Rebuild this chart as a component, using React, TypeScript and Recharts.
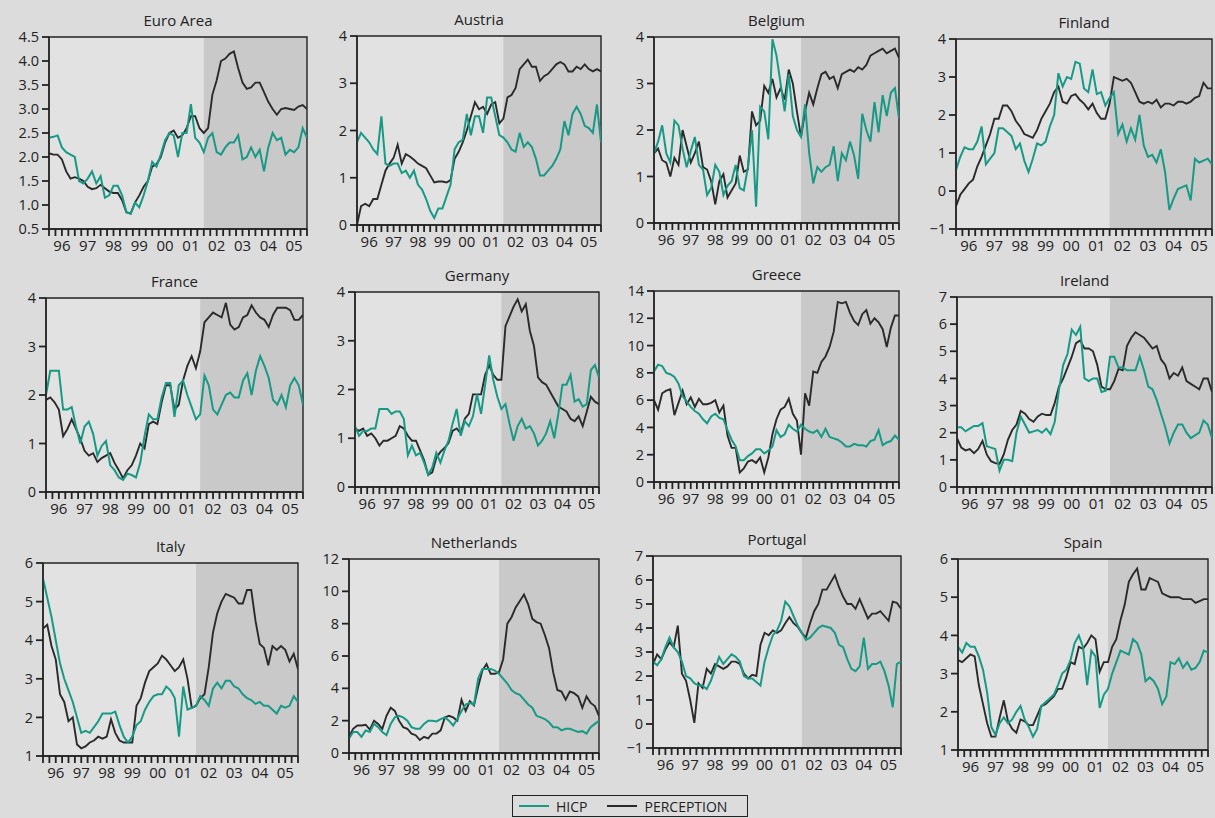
import { LineChart, Line, XAxis, YAxis, ReferenceArea, ReferenceLine } from 'recharts';

// Inflation (HICP) vs perceived inflation, bimonthly readings Jan 1996 – Jan 2006
const FIRST_YEAR = 1996;
const LAST_YEAR = 2006;
const CASH_CHANGEOVER = 2002;
const YEAR_LABELS = ['96', '97', '98', '99', '00', '01', '02', '03', '04', '05'];
const DATES = Array.from({ length: 61 }, (_, i) => FIRST_YEAR + i / 6);
const QUARTER_TICKS = Array.from({ length: 41 }, (_, i) => FIRST_YEAR + i / 4);

const EURO_HICP = [
  2.4, 2.42, 2.45, 2.2, 2.1, 2.05,
  2.0, 1.5, 1.45, 1.55, 1.7, 1.45,
  1.6, 1.15, 1.2, 1.4, 1.4, 1.2,
  0.85, 0.82, 1.05, 0.95, 1.2, 1.5,
  1.9, 1.8, 2.05, 2.35, 2.5, 2.45,
  2.0, 2.5, 2.5, 3.1, 2.4, 2.3,
  2.1, 2.4, 2.5, 2.1, 2.05, 2.2,
  2.3, 2.3, 2.45, 1.95, 2.0, 2.2,
  2.0, 2.15, 1.7, 2.2, 2.5, 2.35,
  2.4, 2.05, 2.15, 2.1, 2.2, 2.6,
  2.4,
];
const EURO_PERC = [
  2.08, 2.05, 2.05, 1.95, 1.7, 1.55,
  1.58, 1.55, 1.5, 1.38, 1.33, 1.35,
  1.42, 1.35, 1.28, 1.25, 1.25, 1.1,
  0.85, 0.82, 1.05, 1.2, 1.38, 1.5,
  1.8, 1.85, 2.0, 2.3, 2.5, 2.55,
  2.4, 2.45, 2.6, 2.85, 2.85, 2.6,
  2.5, 2.6, 3.3, 3.6, 4.0, 4.05,
  4.15, 4.2, 3.85, 3.55, 3.42, 3.45,
  3.55, 3.55, 3.35, 3.15, 3.0, 2.88,
  3.0, 3.02, 3.0, 2.98, 3.05, 3.08,
  3.0,
];

const AUT_HICP = [
  1.75, 1.95, 1.85, 1.75, 1.6, 1.5,
  2.3, 1.3, 1.25, 1.3, 1.3, 1.1,
  1.15, 1.0, 1.15, 0.85, 0.75, 0.55,
  0.3, 0.15, 0.35, 0.35, 0.6, 0.85,
  1.6, 1.75, 1.8, 2.35, 1.9, 2.3,
  2.3, 1.95, 2.7, 2.7, 2.3, 1.9,
  1.85, 1.75, 1.6, 1.55, 1.95, 1.65,
  1.75, 1.65, 1.4, 1.05, 1.05, 1.15,
  1.25, 1.4, 1.6, 2.2, 1.9, 2.35,
  2.5, 2.35, 2.1, 2.05, 1.95, 2.55,
  1.75,
];
const AUT_PERC = [
  0.0, 0.4, 0.45, 0.4, 0.55, 0.55,
  0.85, 1.15, 1.3, 1.42, 1.7, 1.3,
  1.5, 1.45, 1.38, 1.3, 1.25, 1.2,
  1.05, 0.9, 0.92, 0.92, 0.9, 0.95,
  1.4, 1.55, 1.75, 2.0, 2.3, 2.6,
  2.45, 2.5, 2.35, 2.55, 2.6, 2.15,
  2.25, 2.7, 2.75, 2.9, 3.3, 3.4,
  3.5, 3.35, 3.35, 3.05, 3.15, 3.2,
  3.3, 3.4, 3.45, 3.4, 3.25, 3.25,
  3.35, 3.3, 3.4, 3.3, 3.25, 3.3,
  3.25,
];

const BEL_HICP = [
  1.5, 1.75, 2.1, 1.5, 1.3, 2.2,
  2.1, 1.6, 1.2, 1.55, 1.85, 1.25,
  1.15, 0.6, 0.75, 1.25, 1.1, 0.6,
  0.8, 0.9, 1.25, 0.75, 0.7, 1.2,
  2.0, 0.35, 2.5, 2.4, 1.8, 3.95,
  3.6, 3.0, 2.4, 3.2, 2.3, 2.0,
  1.85, 2.55, 1.5, 0.85, 1.2, 1.1,
  1.2, 1.25, 1.65, 0.9, 1.5, 1.35,
  1.75, 1.45, 0.95, 2.35, 2.0, 1.75,
  2.6, 1.95, 2.75, 2.3, 2.8, 2.9,
  2.25,
];
const BEL_PERC = [
  1.5, 1.6, 1.35, 1.3, 1.0, 1.4,
  1.25, 2.0, 1.65, 1.3, 1.5, 1.75,
  1.2, 1.15, 0.9, 0.4, 0.9, 1.05,
  0.55, 0.7, 0.85, 1.45, 1.1, 1.15,
  2.4, 2.1, 2.2, 2.95, 2.8, 3.1,
  2.7, 2.9, 2.65, 3.3, 3.0, 2.4,
  1.85, 2.4, 2.8, 2.55, 2.9, 3.2,
  3.25, 3.1, 3.15, 2.9, 3.2, 3.25,
  3.3, 3.25, 3.35, 3.3, 3.4, 3.6,
  3.65, 3.7, 3.75, 3.65, 3.7, 3.75,
  3.55,
];

const FIN_HICP = [
  0.55, 0.9, 1.15, 1.1, 1.1, 1.3,
  1.7, 0.7, 0.85, 1.0, 1.65, 1.65,
  1.55, 1.45, 1.1, 1.25, 0.8, 0.5,
  0.85, 1.25, 1.2, 1.3, 1.7, 2.0,
  3.1, 2.75, 3.0, 2.95, 3.4, 3.35,
  2.7, 2.6, 3.2, 2.55, 2.6, 2.25,
  2.45, 2.6, 1.5, 1.75, 1.3, 1.65,
  1.35, 2.0, 1.2, 0.9, 0.95, 0.75,
  1.1, 0.5, -0.5, -0.2, 0.05, 0.1,
  0.15, -0.25, 0.85, 0.75, 0.8, 0.85,
  0.7,
];
const FIN_PERC = [
  -0.4, -0.1, 0.05, 0.2, 0.3, 0.65,
  0.9, 1.2, 1.5, 1.9, 1.9, 2.25,
  2.25, 2.1, 1.85, 1.7, 1.5, 1.45,
  1.4, 1.6, 1.9, 2.1, 2.3, 2.6,
  2.75, 2.35, 2.3, 2.5, 2.55, 2.4,
  2.3, 2.15, 2.3, 2.05, 1.9, 1.9,
  2.3, 3.0, 2.95, 2.9, 2.95, 2.85,
  2.6, 2.35, 2.3, 2.35, 2.3, 2.4,
  2.2, 2.3, 2.3, 2.25, 2.35, 2.35,
  2.3, 2.35, 2.45, 2.5, 2.85, 2.7,
  2.7,
];

const FRA_HICP = [
  2.0, 2.5, 2.5, 2.5, 1.7, 1.7,
  1.75, 1.35, 1.0, 1.35, 1.45, 1.2,
  0.75, 0.95, 1.05, 0.55, 0.45, 0.3,
  0.25, 0.38, 0.35, 0.3, 0.6, 1.15,
  1.6, 1.5, 1.5, 1.95, 2.25, 2.25,
  1.55, 2.2, 2.3, 2.0, 1.75, 1.5,
  1.6, 2.4, 2.2, 1.7, 1.6, 1.8,
  2.0, 2.05, 1.95, 1.95, 2.3, 2.45,
  2.0, 2.5, 2.8, 2.6, 2.35, 1.9,
  1.8, 2.0, 1.75, 2.2, 2.35, 2.2,
  1.8,
];
const FRA_PERC = [
  1.9, 1.95, 1.85, 1.7, 1.15, 1.3,
  1.5, 1.3, 1.1, 0.85, 0.75, 0.8,
  0.62, 0.7, 0.75, 0.8, 0.6, 0.45,
  0.28, 0.45, 0.55, 0.75, 1.0, 0.9,
  1.4, 1.45, 1.4, 1.85, 2.2, 2.2,
  1.7, 1.8, 2.3, 2.6, 2.8, 2.55,
  2.9, 3.5, 3.6, 3.7, 3.65, 3.6,
  3.9, 3.45, 3.35, 3.4, 3.6, 3.65,
  3.85, 3.7, 3.6, 3.55, 3.4, 3.65,
  3.8, 3.8, 3.8, 3.75, 3.55, 3.55,
  3.65,
];

const GER_HICP = [
  1.25, 1.05, 1.15, 1.15, 1.2, 1.2,
  1.6, 1.6, 1.6, 1.5, 1.55, 1.55,
  1.4, 0.65, 0.85, 0.65, 0.7, 0.5,
  0.25, 0.4, 0.7, 0.5, 0.75, 0.95,
  1.3, 1.6, 1.05, 1.35, 1.25, 1.45,
  1.9, 1.5, 2.1, 2.7, 2.2, 1.85,
  1.6, 1.7, 1.3, 0.95, 1.25, 1.4,
  1.2, 1.25, 1.1, 0.85, 0.95, 1.1,
  1.35, 1.0, 1.5, 2.1, 2.1, 2.3,
  1.75, 1.8, 1.65, 1.7, 2.4, 2.5,
  2.25,
];
const GER_PERC = [
  1.2, 1.15, 1.2, 1.05, 1.1, 1.0,
  0.85, 0.95, 0.95, 1.0, 1.05, 1.25,
  1.2, 1.05, 0.95, 0.95, 0.75, 0.55,
  0.25, 0.3, 0.6, 0.72, 0.8, 0.9,
  1.15, 1.2, 1.1, 1.4, 1.5, 1.9,
  1.9, 1.9, 2.3, 2.5, 2.3, 2.2,
  2.2, 3.3, 3.5, 3.7, 3.85, 3.6,
  3.75, 3.2, 2.9, 2.25, 2.15, 2.1,
  1.95, 1.8, 1.65, 1.6, 1.55, 1.4,
  1.35, 1.45, 1.25, 1.55, 1.85, 1.75,
  1.7,
];

const GRC_HICP = [
  8.1, 8.6, 8.5, 8.0, 7.9, 7.7,
  7.2, 6.3, 5.9, 5.5, 5.2, 5.0,
  4.6, 4.3, 4.8, 5.0, 4.7, 4.6,
  3.8, 3.1, 2.6, 1.6, 1.6, 1.9,
  2.1, 2.4, 2.4, 2.1, 2.3, 2.6,
  3.8, 3.3, 3.5, 4.2, 3.9, 3.7,
  4.2, 3.9, 3.7, 3.6, 3.8, 3.3,
  3.9, 3.3, 3.2, 3.1, 2.9, 2.6,
  2.6, 2.8, 2.7, 2.7, 2.6, 3.0,
  3.1, 3.8, 2.7, 2.9, 3.0, 3.4,
  3.1,
];
const GRC_PERC = [
  6.0, 5.3, 6.5, 6.7, 6.8, 4.9,
  5.8, 6.7, 5.7, 6.2, 5.5, 6.1,
  5.7, 5.7, 5.8, 6.0, 5.1, 5.6,
  3.4, 2.5, 2.5, 0.7, 1.0, 1.5,
  1.6, 1.4, 1.8, 0.7, 1.8, 3.5,
  4.6, 5.3, 5.5, 6.1, 5.0, 4.5,
  2.0, 6.5, 5.6, 8.1, 8.0, 8.8,
  9.2, 9.9, 11.0, 13.2, 13.1, 13.2,
  12.4, 11.8, 11.5, 12.3, 12.6, 11.6,
  12.0, 11.7, 11.2, 9.9, 11.3, 12.2,
  12.2,
];

const IRL_HICP = [
  2.2, 2.2, 2.05, 2.15, 2.25, 2.25,
  2.35, 1.5, 1.45, 1.4, 0.6, 1.0,
  1.0, 0.95, 2.0, 2.6, 2.3, 2.0,
  2.05, 2.1, 2.0, 2.15, 1.95, 2.4,
  3.6, 4.5, 4.9, 5.8, 5.6, 5.9,
  4.0, 3.9, 4.0, 4.0, 3.5, 3.55,
  4.8, 4.8, 4.4, 4.4, 4.3, 4.3,
  4.3, 4.8, 4.3, 3.7, 3.6, 3.2,
  2.7, 2.2, 1.6, 2.0, 2.3, 2.3,
  2.0, 1.8, 1.9, 2.0, 2.45, 2.3,
  1.8,
];
const IRL_PERC = [
  1.8, 1.45, 1.35, 1.4, 1.25, 1.4,
  1.7, 1.2, 0.95, 0.88, 0.85, 1.2,
  1.75, 2.1, 2.3, 2.8, 2.7, 2.5,
  2.4, 2.6, 2.7, 2.65, 2.65, 3.1,
  3.7, 4.0, 4.4, 4.8, 5.3, 5.4,
  5.1, 5.1, 5.0, 4.5, 3.7, 3.6,
  3.6, 3.9, 4.35, 4.3, 5.2, 5.5,
  5.7, 5.6, 5.5, 5.3, 5.1, 5.2,
  4.7, 4.5, 4.0, 4.2, 4.1, 4.4,
  3.9, 3.8, 3.7, 3.6, 4.0, 4.0,
  3.5,
];

const ITA_HICP = [
  5.6, 5.1, 4.6, 4.0, 3.4, 3.0,
  2.7, 2.4, 2.0, 1.6, 1.65, 1.6,
  1.75, 1.9, 2.1, 2.1, 2.1, 2.15,
  1.8, 1.5, 1.35, 1.5, 1.8, 1.9,
  2.2, 2.4, 2.55, 2.6, 2.6, 2.8,
  2.7, 2.5, 1.5, 2.8, 2.2, 2.25,
  2.3, 2.55, 2.45, 2.3, 2.75, 2.9,
  2.75, 2.95, 2.95, 2.8, 2.75, 2.6,
  2.5, 2.45, 2.35, 2.4, 2.3, 2.3,
  2.2, 2.1, 2.3, 2.25, 2.3, 2.55,
  2.4,
];
const ITA_PERC = [
  4.3, 4.4, 3.85, 3.5, 2.6, 2.4,
  1.9, 2.0, 1.3, 1.2, 1.25, 1.35,
  1.4, 1.5, 1.45, 1.5, 1.95, 1.6,
  1.4, 1.35, 1.35, 1.35, 2.3, 2.5,
  2.9, 3.2, 3.3, 3.4, 3.6, 3.5,
  3.35, 3.2, 3.3, 3.5, 3.0, 2.25,
  2.3, 2.5, 2.6, 3.3, 4.2, 4.7,
  5.0, 5.2, 5.15, 5.1, 4.95, 4.95,
  5.3, 5.3, 4.5, 3.9, 3.8, 3.35,
  3.85, 3.75, 3.85, 3.75, 3.45, 3.65,
  3.25,
];

const NLD_HICP = [
  0.9, 1.3, 1.3, 1.0, 1.4, 1.3,
  1.8, 1.6, 1.3, 1.1, 1.8, 2.2,
  2.3, 2.2, 2.0, 1.6, 1.5, 1.5,
  1.8, 2.0, 2.0, 1.95, 2.1, 2.2,
  2.0, 1.7, 2.1, 2.6, 3.0, 3.1,
  3.0, 4.6, 5.2, 5.2, 5.2, 5.1,
  4.9, 4.6, 4.3, 3.9, 3.7, 3.6,
  3.3, 3.0, 2.8, 2.3, 2.2, 2.1,
  1.9, 1.6, 1.6, 1.4, 1.5, 1.5,
  1.4, 1.3, 1.35, 1.2, 1.6, 1.8,
  2.0,
];
const NLD_PERC = [
  1.0, 1.5, 1.7, 1.7, 1.75, 1.45,
  2.0, 1.8, 1.5, 2.3, 2.8, 2.6,
  2.0, 1.6, 1.5, 1.2, 1.1, 0.8,
  1.0, 0.9, 1.2, 1.2, 1.4, 2.2,
  2.3, 2.2, 2.0, 3.3, 2.6, 3.2,
  2.95, 4.1, 5.1, 5.5, 4.9, 4.9,
  5.0, 5.8, 8.0, 8.4, 9.0, 9.4,
  9.8, 9.2, 8.3, 8.1, 8.0, 7.3,
  6.5, 5.0, 3.9, 3.8, 3.3, 3.8,
  3.7, 3.5, 2.8, 3.5, 3.1, 2.9,
  2.3,
];

const PRT_HICP = [
  2.6, 2.45, 2.7, 3.2, 3.6, 3.2,
  3.0, 2.6, 2.0, 1.9, 1.7, 1.6,
  1.6, 1.45, 1.8, 2.3, 2.8, 2.5,
  2.7, 2.9, 2.8, 2.6, 2.0, 1.9,
  1.9, 1.75, 1.6, 2.6, 3.2, 3.7,
  3.9, 4.3, 5.1, 4.9, 4.5, 4.1,
  3.8, 3.5, 3.6, 3.8, 4.0, 4.1,
  4.05, 4.0, 3.8, 3.3, 3.2, 2.7,
  2.3, 2.2, 2.4, 3.6, 2.3, 2.5,
  2.5, 2.6, 2.2, 1.6, 0.7, 2.5,
  2.6,
];
const PRT_PERC = [
  2.5, 2.9, 2.7, 3.1, 3.4, 3.2,
  4.1, 2.1, 1.8, 1.0, 0.05, 1.7,
  1.5, 2.3, 2.1, 2.5, 2.4, 2.3,
  2.4, 2.6, 2.6, 2.5, 2.1, 1.9,
  2.05, 2.0, 3.3, 3.8, 3.7, 3.9,
  3.8, 3.9, 4.2, 4.45, 4.2, 4.05,
  3.8, 3.6, 4.2, 4.7, 5.0, 5.6,
  5.6, 5.9, 6.2, 5.7, 5.3, 5.0,
  5.0, 4.8, 5.2, 4.8, 4.4, 4.6,
  4.6, 4.7, 4.5, 4.3, 5.1, 5.05,
  4.8,
];

const ESP_HICP = [
  3.7, 3.55, 3.8, 3.7, 3.7, 3.45,
  3.1, 2.5, 1.6, 1.4, 1.7, 1.85,
  1.7, 1.8, 2.0, 2.15, 1.8, 1.6,
  1.35, 1.55, 2.15, 2.25, 2.35, 2.45,
  2.7, 3.0, 3.1, 3.35, 3.8, 4.0,
  3.7, 2.7, 3.6, 3.45, 2.1, 2.45,
  2.6, 3.0, 3.3, 3.6, 3.55, 3.5,
  3.9, 3.8, 3.5, 2.8, 2.9, 2.8,
  2.6, 2.2, 2.4, 3.3, 3.25, 3.4,
  3.15, 3.3, 3.1, 3.15, 3.3, 3.6,
  3.55,
];
const ESP_PERC = [
  3.35, 3.3, 3.4, 3.5, 3.45, 2.7,
  2.2, 1.7, 1.35, 1.35, 1.85, 2.3,
  1.75, 1.55, 1.45, 1.8, 1.75, 1.65,
  1.65, 1.9, 2.15, 2.2, 2.3, 2.4,
  2.6, 2.6, 2.9, 3.3, 3.25, 3.7,
  3.65, 3.8, 4.0, 3.9, 3.05, 3.3,
  3.3, 3.7, 3.9, 4.4, 4.8, 5.4,
  5.6, 5.75, 5.2, 5.2, 5.5, 5.45,
  5.4, 5.1, 5.05, 5.0, 5.0, 5.0,
  4.95, 4.95, 4.95, 4.85, 4.9, 4.95,
  4.95,
];

const COUNTRIES = [
  { title: 'Euro Area', hicp: EURO_HICP, perc: EURO_PERC, yTicks: [0.5, 1, 1.5, 2, 2.5, 3, 3.5, 4, 4.5], decimals: 1 },
  { title: 'Austria', hicp: AUT_HICP, perc: AUT_PERC, yTicks: [0, 1, 2, 3, 4], decimals: 0 },
  { title: 'Belgium', hicp: BEL_HICP, perc: BEL_PERC, yTicks: [0, 1, 2, 3, 4], decimals: 0 },
  { title: 'Finland', hicp: FIN_HICP, perc: FIN_PERC, yTicks: [-1, 0, 1, 2, 3, 4], decimals: 0 },
  { title: 'France', hicp: FRA_HICP, perc: FRA_PERC, yTicks: [0, 1, 2, 3, 4], decimals: 0 },
  { title: 'Germany', hicp: GER_HICP, perc: GER_PERC, yTicks: [0, 1, 2, 3, 4], decimals: 0 },
  { title: 'Greece', hicp: GRC_HICP, perc: GRC_PERC, yTicks: [0, 2, 4, 6, 8, 10, 12, 14], decimals: 0 },
  { title: 'Ireland', hicp: IRL_HICP, perc: IRL_PERC, yTicks: [0, 1, 2, 3, 4, 5, 6, 7], decimals: 0 },
  { title: 'Italy', hicp: ITA_HICP, perc: ITA_PERC, yTicks: [1, 2, 3, 4, 5, 6], decimals: 0 },
  { title: 'Netherlands', hicp: NLD_HICP, perc: NLD_PERC, yTicks: [0, 2, 4, 6, 8, 10, 12], decimals: 0 },
  { title: 'Portugal', hicp: PRT_HICP, perc: PRT_PERC, yTicks: [-1, 0, 1, 2, 3, 4, 5, 6, 7], decimals: 0 },
  { title: 'Spain', hicp: ESP_HICP, perc: ESP_PERC, yTicks: [1, 2, 3, 4, 5, 6], decimals: 0 },
];

// plot rectangles: [left, top, width, height]
const PLOT_BOXES = [
  [49, 37, 258, 192], [357, 36, 244, 189], [654, 37, 245, 186], [956, 39, 256, 190],
  [46, 298, 257, 194], [355, 292, 244, 195], [654, 291, 245, 191], [957, 297, 255, 190],
  [43, 563, 255, 193], [349, 559, 250, 194], [653, 556, 248, 192], [958, 559, 250, 191],
];

const HICP_COLOR = '#179a85';
const PERC_COLOR = '#2a2a2a';
const INK = '#222222';
const PAGE_BG = '#dcdcdc';
const PLOT_BG = '#e2e2e2';
const SHADE_BG = '#c9c9c9';
const FONT = '"Open Sans", "Noto Sans", Arial, sans-serif';

const Y_W = 40;
const M_L = 5;
const M_T = 10;
const M_R = 6;
const X_H = 32;
const TITLE_H = 14;
const TICK_LEN = 7;
const TICK_W = 1.8;

function formatY(decimals: number) {
  return (v: number) => {
    const s = Math.abs(v).toFixed(decimals);
    return v < 0 ? '\u2212' + s : s;
  };
}

// year label centred on each mid-year quarter mark
function YearTick(props: any) {
  const { x, y, payload } = props;
  const v = payload.value as number;
  const frac = v - Math.floor(v);
  if (Math.abs(frac - 0.5) > 1e-6) return <g />;
  return (
    <text x={x} y={y} dy="0.75em" textAnchor="middle" fill={INK} fontSize={15} fontFamily={FONT}>
      {YEAR_LABELS[Math.floor(v) - FIRST_YEAR]}
    </text>
  );
}

function Panel({ country, box }: { country: (typeof COUNTRIES)[number]; box: number[] }) {
  const [left, top, w, h] = box;
  const { title, hicp, perc, yTicks, decimals } = country;
  const yMin = yTicks[0];
  const yMax = yTicks[yTicks.length - 1];
  const data = DATES.map((t, i) => ({ t, hicp: hicp[i], perc: perc[i] }));
  // tick mark length expressed in data units of each axis
  const dy = ((yMax - yMin) * TICK_LEN) / h;
  const dx = ((LAST_YEAR - FIRST_YEAR) * TICK_LEN) / w;

  return (
    <div style={{ position: 'absolute', left: left - Y_W - M_L, top: top - TITLE_H - M_T }}>
      <div
        style={{
          marginLeft: Y_W + M_L,
          width: w,
          height: TITLE_H,
          lineHeight: `${TITLE_H}px`,
          textAlign: 'center',
          fontSize: 15,
          color: INK,
        }}
      >
        {title}
      </div>
      <LineChart
        width={w + Y_W + M_L + M_R}
        height={h + M_T + X_H}
        data={data}
        margin={{ top: M_T, right: M_R, left: M_L, bottom: 0 }}
      >
        <ReferenceArea x1={FIRST_YEAR} x2={LAST_YEAR} y1={yMin} y2={yMax} fill={PLOT_BG} fillOpacity={1} stroke="none" />
        <ReferenceArea x1={CASH_CHANGEOVER} x2={LAST_YEAR} y1={yMin} y2={yMax} fill={SHADE_BG} fillOpacity={1} stroke="none" />
        <ReferenceArea x1={FIRST_YEAR} x2={LAST_YEAR} y1={yMin} y2={yMax} fill="none" stroke={INK} strokeWidth={1.4} />
        <XAxis
          dataKey="t"
          type="number"
          domain={[FIRST_YEAR, LAST_YEAR]}
          ticks={QUARTER_TICKS}
          interval={0}
          height={X_H}
          tickSize={TICK_LEN}
          tickMargin={4}
          tick={<YearTick />}
          tickLine={false}
          axisLine={{ stroke: INK, strokeWidth: 1.4 }}
          allowDataOverflow
        />
        <YAxis
          type="number"
          domain={[yMin, yMax]}
          ticks={yTicks}
          interval={0}
          width={Y_W}
          tickSize={TICK_LEN}
          tickMargin={3}
          tickFormatter={formatY(decimals)}
          tick={{ fill: INK, fontSize: 14.5, fontFamily: FONT }}
          tickLine={false}
          axisLine={{ stroke: INK, strokeWidth: 1.4 }}
          allowDataOverflow
        />
        {QUARTER_TICKS.map((q) => (
          <ReferenceLine
            key={`q${q}`}
            segment={[{ x: q, y: yMin }, { x: q, y: yMin - dy }]}
            ifOverflow="visible"
            stroke={INK}
            strokeWidth={TICK_W}
          />
        ))}
        {yTicks.map((t) => (
          <ReferenceLine
            key={`y${t}`}
            segment={[{ x: FIRST_YEAR - dx, y: t }, { x: FIRST_YEAR, y: t }]}
            ifOverflow="visible"
            stroke={INK}
            strokeWidth={TICK_W}
          />
        ))}
        <Line
          type="linear"
          dataKey="perc"
          stroke={PERC_COLOR}
          strokeWidth={1.9}
          dot={false}
          isAnimationActive={false}
        />
        <Line
          type="linear"
          dataKey="hicp"
          stroke={HICP_COLOR}
          strokeWidth={2}
          dot={false}
          isAnimationActive={false}
        />
      </LineChart>
    </div>
  );
}

function LegendBox() {
  const item = (color: string, text: string) => (
    <div style={{ display: 'flex', alignItems: 'center', gap: 7 }}>
      <span style={{ display: 'inline-block', width: 30, height: 2, background: color }} />
      <span>{text}</span>
    </div>
  );
  return (
    <div
      style={{
        position: 'absolute',
        left: 512,
        top: 795,
        width: 236,
        height: 22,
        boxSizing: 'border-box',
        border: `1px solid ${INK}`,
        display: 'flex',
        alignItems: 'center',
        gap: 20,
        paddingLeft: 6,
        fontSize: 14,
        color: INK,
      }}
    >
      {item(HICP_COLOR, 'HICP')}
      {item(PERC_COLOR, 'PERCEPTION')}
    </div>
  );
}

export default function App() {
  return (
    <div
      style={{
        position: 'absolute',
        left: 0,
        top: 0,
        width: 1215,
        height: 818,
        overflow: 'hidden',
        background: PAGE_BG,
        fontFamily: FONT,
      }}
    >
      {COUNTRIES.map((c, i) => (
        <Panel key={c.title} country={c} box={PLOT_BOXES[i]} />
      ))}
      <LegendBox />
    </div>
  );
}
